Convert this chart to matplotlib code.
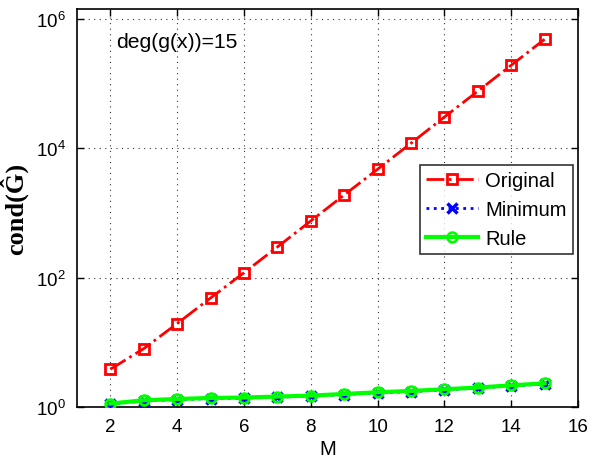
import matplotlib
matplotlib.use("Agg")
import matplotlib.pyplot as plt
from matplotlib.ticker import FixedLocator, NullLocator

plt.rcParams['font.family'] = ['Liberation Sans', 'DejaVu Sans']
plt.rcParams['mathtext.fontset'] = 'custom'
plt.rcParams['mathtext.rm'] = 'Liberation Sans'
plt.rcParams['mathtext.it'] = 'Liberation Sans:italic'
plt.rcParams['mathtext.bf'] = 'Liberation Sans:bold'

# Condition numbers versus M for deg(g(x)) = 15
M = [2, 3, 4, 5, 6, 7, 8, 9, 10, 11, 12, 13, 14, 15]
original = [3.83, 7.99, 19.5, 48.4, 119, 297, 750, 1890, 4720,
            11900, 30300, 75800, 191000, 481000]
minimum = [1.10, 1.24, 1.30, 1.35, 1.37, 1.42, 1.47, 1.56, 1.65,
           1.73, 1.84, 1.96, 2.11, 2.27]
rule = [1.13, 1.27, 1.33, 1.38, 1.40, 1.45, 1.50, 1.59, 1.69,
        1.77, 1.88, 2.00, 2.16, 2.32]

legend_labels = ['Original', 'Minimum', 'Rule']
x_ticks = [2, 4, 6, 8, 10, 12, 14, 16]
y_ticks = [1, 1e2, 1e4, 1e6]

fig = plt.figure(figsize=(5.92, 4.60), dpi=100)
ax = fig.add_axes([77 / 592, 1 - 408 / 460, (578 - 77) / 592, (408 - 10) / 460])

ax.semilogy(M, original, color='red', linestyle='-.', linewidth=2,
            marker='s', markersize=6.5, markerfacecolor='none',
            markeredgewidth=2, label=legend_labels[0], zorder=3)
ax.semilogy(M, minimum, color='blue', linestyle=':', linewidth=2,
            marker='x', markersize=7, markeredgewidth=2.5,
            label=legend_labels[1], zorder=3)
ax.semilogy(M, rule, color=(0, 1, 0), linestyle='-', linewidth=3,
            marker='o', markersize=7, markerfacecolor='none',
            markeredgewidth=2, label=legend_labels[2], zorder=4)

ax.set_xlim(1, 16)
ax.set_ylim(1, 10 ** 6.15)
ax.xaxis.set_major_locator(FixedLocator(x_ticks))
ax.yaxis.set_major_locator(FixedLocator(y_ticks))
ax.yaxis.set_minor_locator(NullLocator())
ax.xaxis.set_minor_locator(NullLocator())

ax.grid(True, which='major', linestyle=(0, (1, 4)), color='black',
        linewidth=0.8, alpha=0.8)
ax.tick_params(direction='in', top=True, right=True, length=5,
               width=1, labelsize=13.5, pad=8)
for s in ax.spines.values():
    s.set_linewidth(1.2)

ax.set_xlabel('M', fontsize=14.5, labelpad=3)
ax.set_ylabel('cond(Ĝ)', fontsize=19, fontweight='bold',
              family=['Liberation Serif', 'DejaVu Serif'], labelpad=6)

ax.text(0.078, 0.918, 'deg(g(x))=15', transform=ax.transAxes,
        fontsize=15.2, va='center', ha='left')

leg = ax.legend(loc='upper right', bbox_to_anchor=(0.99, 0.608), fontsize=14.5,
                frameon=True, fancybox=False, edgecolor='black',
                handlelength=2.6, handletextpad=0.35, borderpad=0.3,
                labelspacing=0.5, borderaxespad=0)
leg.get_frame().set_linewidth(1.2)

fig.savefig('out.png', dpi=100)
